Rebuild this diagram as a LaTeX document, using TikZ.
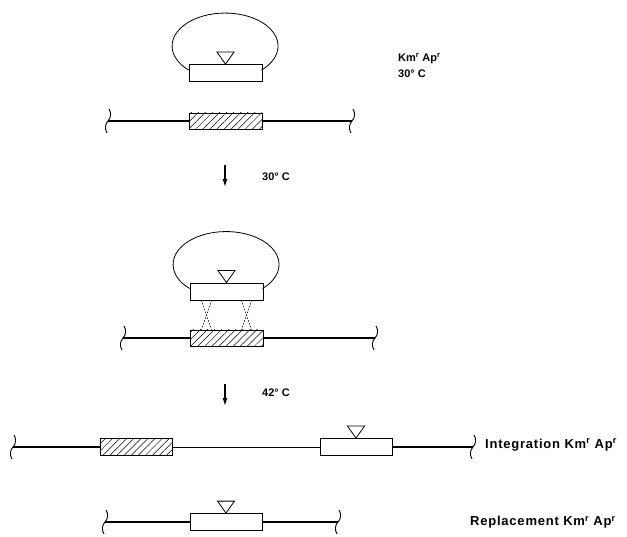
\documentclass[tikz,border=0pt]{standalone}
\usepackage{fontspec}
\setmainfont{Liberation Sans}
\usetikzlibrary{patterns.meta,arrows.meta,calc}
\tikzset{
  chrom/.style={line width=1.4pt},
  thinchrom/.style={line width=0.8pt},
  genebox/.style={draw, line width=0.8pt, fill=white, minimum width=73pt, minimum height=17pt, inner sep=0pt},
  hatchbox/.style={draw, line width=0.8pt, minimum width=73pt, minimum height=16pt, inner sep=0pt,
     pattern={Lines[angle=45,distance=5pt,line width=0.5pt]}},
  loopline/.style={line width=0.8pt},
  tri/.style={line width=0.8pt},
  cross/.style={line width=0.6pt, dash pattern=on 1.5pt off 1.5pt},
  stepar/.style={line width=1.2pt, -{Latex[length=8pt,width=5pt]}},
  lbl/.style={font=\bfseries\fontsize{11}{13}\selectfont, anchor=west, inner sep=0pt},
  biglbl/.style={font=\bfseries\fontsize{13}{15}\selectfont\addfontfeatures{LetterSpace=6}, anchor=west, inner sep=0pt},
  cut/.pic={\draw[line width=0.9pt] (1,-12) .. controls (3.5,-8) and (3,-3) .. (0,0) .. controls (-3,3) and (-3.5,8) .. (-1,12);}
}
\newcommand{\kmap}{Km\textsuperscript{r} Ap\textsuperscript{r}}
\begin{document}
\begin{tikzpicture}[x=1pt,y=-1pt]
\useasboundingbox (0,0) rectangle (627,537);
% ---------- plasmid 1 ----------
\node[genebox] (b1) at (225.5,73) {};
\draw[loopline] ($(b1.west)+(0,-3)$) arc[start angle=133.5, end angle=406.5, x radius=53, y radius=33];
\draw[tri] (b1.north) -- ++(-8.5,-12) -- ++(17,0) -- cycle;
% ---------- chromosome 1 ----------
\coordinate (l1) at (108,121);
\coordinate (r1) at (352,121);
\node[hatchbox] (h1) at (225.5,121) {};
\draw[chrom] (l1) -- (h1.west);
\draw[chrom] (h1.east) -- (r1);
\pic at (l1) {cut};
\pic at (r1) {cut};
\node[lbl] (t1) at (398,59) {\kmap};
\node[lbl] (t2) at (398,74) {30° C};
% ---------- arrow 1 ----------
\coordinate (a1s) at (225,165);
\coordinate (a1e) at (225,187);
\draw[stepar] (a1s) -- (a1e);
\node[lbl] (a1l) at (262,177) {30° C};
% ---------- plasmid 2 ----------
\node[genebox] (b2) at (226.5,291.5) {};
\draw[loopline] ($(b2.west)+(0,-3)$) arc[start angle=133.5, end angle=406.5, x radius=53, y radius=33];
\draw[tri] (b2.north) -- ++(-8.5,-12) -- ++(17,0) -- cycle;
% ---------- chromosome 2 ----------
\coordinate (l2) at (123,338);
\coordinate (r2) at (375,338);
\node[hatchbox] (h2) at (226.5,338) {};
\draw[chrom] (l2) -- (h2.west);
\draw[chrom] (h2.east) -- (r2);
\pic at (l2) {cut};
\pic at (r2) {cut};
% crossovers
\draw[cross] ($(b2.south)+(-25,0)$) -- ($(h2.north)+(-15,0)$);
\draw[cross] ($(b2.south)+(-15,0)$) -- ($(h2.north)+(-25,0)$);
\draw[cross] ($(b2.south)+(15,0)$) -- ($(h2.north)+(25,0)$);
\draw[cross] ($(b2.south)+(25,0)$) -- ($(h2.north)+(15,0)$);
% ---------- arrow 2 ----------
\coordinate (a2s) at (225,384);
\coordinate (a2e) at (225,406);
\draw[stepar] (a2s) -- (a2e);
\node[lbl] (a2l) at (262,393) {42° C};
% ---------- integration ----------
\coordinate (l3) at (13,447);
\coordinate (r3) at (473,447);
\node[hatchbox, minimum width=72pt, minimum height=17pt] (h3) at (136,447) {};
\node[genebox, minimum width=72pt] (b3) at (356,447) {};
\draw[chrom] (l3) -- (h3.west);
\draw[thinchrom] (h3.east) -- (b3.west);
\draw[chrom] (b3.east) -- (r3);
\draw[tri] (b3.north) -- ++(-8.5,-12) -- ++(17,0) -- cycle;
\pic at (l3) {cut};
\pic at (r3) {cut};
\node[biglbl] (t3) at (485,445) {Integration \kmap};
% ---------- replacement ----------
\coordinate (l4) at (105,522);
\coordinate (r4) at (338,522);
\node[genebox, minimum width=72pt] (b4) at (226,522) {};
\draw[chrom] (l4) -- (b4.west);
\draw[chrom] (b4.east) -- (r4);
\draw[tri] (b4.north) -- ++(-8.5,-12) -- ++(17,0) -- cycle;
\pic at (l4) {cut};
\pic at (r4) {cut};
\node[biglbl] (t4) at (470,522) {Replacement \kmap};
\end{tikzpicture}
\end{document}
